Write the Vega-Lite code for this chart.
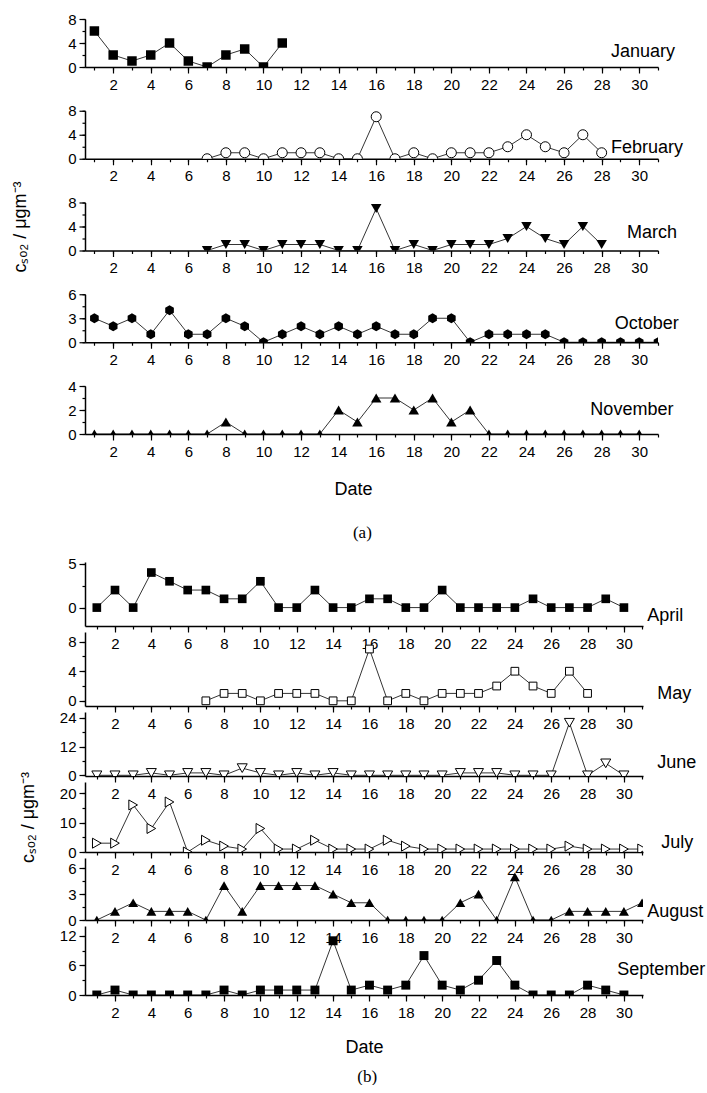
{
"$schema":"https://vega.github.io/schema/vega-lite/v6.json",
"padding":{"left":11,"top":12,"right":0,"bottom":0},
"config":{"view":{"stroke":null},"font":"Liberation Sans","axis":{"grid":false,"domainColor":"black","domainWidth":1.5,"tickColor":"black","tickWidth":1.2,"tickSize":6,"labelColor":"black","labelFont":"Liberation Sans","labelFontSize":15,"labelPadding":3,"labelOverlap":false,"labelFlush":false,"titleFont":"Liberation Sans","titleFontSize":18,"titleFontWeight":"normal","titleColor":"black"},"axisX":{"labelPadding":4}},
"datasets":{
"jan":[{"d":1,"v":6},{"d":2,"v":2},{"d":3,"v":1},{"d":4,"v":2},{"d":5,"v":4},{"d":6,"v":1},{"d":7,"v":0},{"d":8,"v":2},{"d":9,"v":3},{"d":10,"v":0},{"d":11,"v":4}],
"feb":[{"d":7,"v":0},{"d":8,"v":1},{"d":9,"v":1},{"d":10,"v":0},{"d":11,"v":1},{"d":12,"v":1},{"d":13,"v":1},{"d":14,"v":0},{"d":15,"v":0},{"d":16,"v":7},{"d":17,"v":0},{"d":18,"v":1},{"d":19,"v":0},{"d":20,"v":1},{"d":21,"v":1},{"d":22,"v":1},{"d":23,"v":2},{"d":24,"v":4},{"d":25,"v":2},{"d":26,"v":1},{"d":27,"v":4},{"d":28,"v":1}],
"oct":[{"d":1,"v":3},{"d":2,"v":2},{"d":3,"v":3},{"d":4,"v":1},{"d":5,"v":4},{"d":6,"v":1},{"d":7,"v":1},{"d":8,"v":3},{"d":9,"v":2},{"d":10,"v":0},{"d":11,"v":1},{"d":12,"v":2},{"d":13,"v":1},{"d":14,"v":2},{"d":15,"v":1},{"d":16,"v":2},{"d":17,"v":1},{"d":18,"v":1},{"d":19,"v":3},{"d":20,"v":3},{"d":21,"v":0},{"d":22,"v":1},{"d":23,"v":1},{"d":24,"v":1},{"d":25,"v":1},{"d":26,"v":0},{"d":27,"v":0},{"d":28,"v":0},{"d":29,"v":0},{"d":30,"v":0},{"d":31,"v":0}],
"nov":[{"d":1,"v":0},{"d":2,"v":0},{"d":3,"v":0},{"d":4,"v":0},{"d":5,"v":0},{"d":6,"v":0},{"d":7,"v":0},{"d":8,"v":1},{"d":9,"v":0},{"d":10,"v":0},{"d":11,"v":0},{"d":12,"v":0},{"d":13,"v":0},{"d":14,"v":2},{"d":15,"v":1},{"d":16,"v":3},{"d":17,"v":3},{"d":18,"v":2},{"d":19,"v":3},{"d":20,"v":1},{"d":21,"v":2},{"d":22,"v":0},{"d":23,"v":0},{"d":24,"v":0},{"d":25,"v":0},{"d":26,"v":0},{"d":27,"v":0},{"d":28,"v":0},{"d":29,"v":0},{"d":30,"v":0}],
"apr":[{"d":1,"v":0},{"d":2,"v":2},{"d":3,"v":0},{"d":4,"v":4},{"d":5,"v":3},{"d":6,"v":2},{"d":7,"v":2},{"d":8,"v":1},{"d":9,"v":1},{"d":10,"v":3},{"d":11,"v":0},{"d":12,"v":0},{"d":13,"v":2},{"d":14,"v":0},{"d":15,"v":0},{"d":16,"v":1},{"d":17,"v":1},{"d":18,"v":0},{"d":19,"v":0},{"d":20,"v":2},{"d":21,"v":0},{"d":22,"v":0},{"d":23,"v":0},{"d":24,"v":0},{"d":25,"v":1},{"d":26,"v":0},{"d":27,"v":0},{"d":28,"v":0},{"d":29,"v":1},{"d":30,"v":0}],
"jun":[{"d":1,"v":0},{"d":2,"v":0},{"d":3,"v":0},{"d":4,"v":1},{"d":5,"v":0},{"d":6,"v":1},{"d":7,"v":1},{"d":8,"v":0},{"d":9,"v":3},{"d":10,"v":1},{"d":11,"v":0},{"d":12,"v":1},{"d":13,"v":0},{"d":14,"v":1},{"d":15,"v":0},{"d":16,"v":0},{"d":17,"v":0},{"d":18,"v":0},{"d":19,"v":0},{"d":20,"v":0},{"d":21,"v":1},{"d":22,"v":1},{"d":23,"v":1},{"d":24,"v":0},{"d":25,"v":0},{"d":26,"v":0},{"d":27,"v":22},{"d":28,"v":0},{"d":29,"v":5},{"d":30,"v":0}],
"jul":[{"d":1,"v":3},{"d":2,"v":3},{"d":3,"v":16},{"d":4,"v":8},{"d":5,"v":17},{"d":6,"v":0},{"d":7,"v":4},{"d":8,"v":2},{"d":9,"v":1},{"d":10,"v":8},{"d":11,"v":1},{"d":12,"v":1},{"d":13,"v":4},{"d":14,"v":1},{"d":15,"v":1},{"d":16,"v":1},{"d":17,"v":4},{"d":18,"v":2},{"d":19,"v":1},{"d":20,"v":1},{"d":21,"v":1},{"d":22,"v":1},{"d":23,"v":1},{"d":24,"v":1},{"d":25,"v":1},{"d":26,"v":1},{"d":27,"v":2},{"d":28,"v":1},{"d":29,"v":1},{"d":30,"v":1},{"d":31,"v":1}],
"aug":[{"d":1,"v":0},{"d":2,"v":1},{"d":3,"v":2},{"d":4,"v":1},{"d":5,"v":1},{"d":6,"v":1},{"d":7,"v":0},{"d":8,"v":4},{"d":9,"v":1},{"d":10,"v":4},{"d":11,"v":4},{"d":12,"v":4},{"d":13,"v":4},{"d":14,"v":3},{"d":15,"v":2},{"d":16,"v":2},{"d":17,"v":0},{"d":18,"v":0},{"d":19,"v":0},{"d":20,"v":0},{"d":21,"v":2},{"d":22,"v":3},{"d":23,"v":0},{"d":24,"v":5},{"d":25,"v":0},{"d":26,"v":0},{"d":27,"v":1},{"d":28,"v":1},{"d":29,"v":1},{"d":30,"v":1},{"d":31,"v":2}],
"sep":[{"d":1,"v":0},{"d":2,"v":1},{"d":3,"v":0},{"d":4,"v":0},{"d":5,"v":0},{"d":6,"v":0},{"d":7,"v":0},{"d":8,"v":1},{"d":9,"v":0},{"d":10,"v":1},{"d":11,"v":1},{"d":12,"v":1},{"d":13,"v":1},{"d":14,"v":11},{"d":15,"v":1},{"d":16,"v":2},{"d":17,"v":1},{"d":18,"v":2},{"d":19,"v":8},{"d":20,"v":2},{"d":21,"v":1},{"d":22,"v":3},{"d":23,"v":7},{"d":24,"v":2},{"d":25,"v":0},{"d":26,"v":0},{"d":27,"v":0},{"d":28,"v":2},{"d":29,"v":1},{"d":30,"v":0}]
},
"vconcat":[
 {"vconcat":[
  {"width":573,"height":48,"data":{"name":"jan"},"resolve":{"axis":{"x":"independent","y":"independent"}},"layer":[
   {"mark":{"type":"line","color":"black","strokeWidth":0.8,"clip":true},"encoding":{"x":{"field":"d","type":"quantitative","scale":{"domain":[0.5,31],"nice":false,"zero":false},"axis":{"values":[2,4,6,8,10,12,14,16,18,20,22,24,26,28,30],"title":null}},"y":{"field":"v","type":"quantitative","scale":{"domain":[0,8],"nice":false},"axis":{"values":[0,4,8],"title":null}}}},
   {"mark":{"type":"point","shape":"square","filled":true,"color":"black","size":90,"opacity":1,"clip":true},"encoding":{"x":{"field":"d","type":"quantitative","axis":{"orient":"bottom","values":[1,2,3,4,5,6,7,8,9,10,11,12,13,14,15,16,17,18,19,20,21,22,23,24,25,26,27,28,29,30,31],"labels":false,"domain":false,"tickSize":3,"title":null}},"y":{"field":"v","type":"quantitative","axis":{"orient":"left","values":[0,2,4,6,8],"labels":false,"domain":false,"tickSize":3,"title":null}}}},
   {"data":{"values":[{"m":"January"}]},"mark":{"type":"text","align":"left","baseline":"middle","fontSize":18,"color":"black"},"encoding":{"x":{"datum":28.5,"axis":null},"y":{"datum":2.5,"axis":null},"text":{"field":"m"}}}
  ]},
  {"width":573,"height":48,"data":{"name":"feb"},"resolve":{"axis":{"x":"independent","y":"independent"}},"layer":[
   {"mark":{"type":"line","color":"black","strokeWidth":0.8,"clip":true},"encoding":{"x":{"field":"d","type":"quantitative","scale":{"domain":[0.5,31],"nice":false,"zero":false},"axis":{"values":[2,4,6,8,10,12,14,16,18,20,22,24,26,28,30],"title":null}},"y":{"field":"v","type":"quantitative","scale":{"domain":[0,8],"nice":false},"axis":{"values":[0,4,8],"title":null}}}},
   {"mark":{"type":"point","shape":"circle","filled":true,"fill":"white","stroke":"black","strokeWidth":1,"size":100,"opacity":1,"clip":true},"encoding":{"x":{"field":"d","type":"quantitative","axis":{"orient":"bottom","values":[1,2,3,4,5,6,7,8,9,10,11,12,13,14,15,16,17,18,19,20,21,22,23,24,25,26,27,28,29,30,31],"labels":false,"domain":false,"tickSize":3,"title":null}},"y":{"field":"v","type":"quantitative","axis":{"orient":"left","values":[0,2,4,6,8],"labels":false,"domain":false,"tickSize":3,"title":null}}}},
   {"data":{"values":[{"m":"February"}]},"mark":{"type":"text","align":"left","baseline":"middle","fontSize":18,"color":"black"},"encoding":{"x":{"datum":28.5,"axis":null},"y":{"datum":1.8,"axis":null},"text":{"field":"m"}}}
  ]},
  {"width":573,"height":48,"data":{"name":"feb"},"resolve":{"axis":{"x":"independent","y":"independent"}},"layer":[
   {"mark":{"type":"line","color":"black","strokeWidth":0.8,"clip":true},"encoding":{"x":{"field":"d","type":"quantitative","scale":{"domain":[0.5,31],"nice":false,"zero":false},"axis":{"values":[2,4,6,8,10,12,14,16,18,20,22,24,26,28,30],"title":null}},"y":{"field":"v","type":"quantitative","scale":{"domain":[0,8],"nice":false},"axis":{"values":[0,4,8],"title":"cₛₒ₂ / μgm⁻³","titlePadding":38}}}},
   {"mark":{"type":"point","shape":"triangle-down","filled":true,"color":"black","size":110,"opacity":1,"clip":true},"encoding":{"x":{"field":"d","type":"quantitative","axis":{"orient":"bottom","values":[1,2,3,4,5,6,7,8,9,10,11,12,13,14,15,16,17,18,19,20,21,22,23,24,25,26,27,28,29,30,31],"labels":false,"domain":false,"tickSize":3,"title":null}},"y":{"field":"v","type":"quantitative","axis":{"orient":"left","values":[0,2,4,6,8],"labels":false,"domain":false,"tickSize":3,"title":null}}}},
   {"data":{"values":[{"m":"March"}]},"mark":{"type":"text","align":"left","baseline":"middle","fontSize":18,"color":"black"},"encoding":{"x":{"datum":29.35,"axis":null},"y":{"datum":3,"axis":null},"text":{"field":"m"}}}
  ]},
  {"width":573,"height":48,"data":{"name":"oct"},"resolve":{"axis":{"x":"independent","y":"independent"}},"layer":[
   {"mark":{"type":"line","color":"black","strokeWidth":0.8,"clip":true},"encoding":{"x":{"field":"d","type":"quantitative","scale":{"domain":[0.5,31],"nice":false,"zero":false},"axis":{"values":[2,4,6,8,10,12,14,16,18,20,22,24,26,28,30],"title":null}},"y":{"field":"v","type":"quantitative","scale":{"domain":[0,6],"nice":false},"axis":{"values":[0,3,6],"title":null}}}},
   {"mark":{"type":"point","shape":"M0,-1L0.866,-0.5L0.866,0.5L0,1L-0.866,0.5L-0.866,-0.5Z","filled":true,"color":"black","size":100,"opacity":1,"clip":true},"encoding":{"x":{"field":"d","type":"quantitative","axis":{"orient":"bottom","values":[1,2,3,4,5,6,7,8,9,10,11,12,13,14,15,16,17,18,19,20,21,22,23,24,25,26,27,28,29,30,31],"labels":false,"domain":false,"tickSize":3,"title":null}},"y":{"field":"v","type":"quantitative","axis":{"orient":"left","values":[0,1.5,3,4.5,6],"labels":false,"domain":false,"tickSize":3,"title":null}}}},
   {"data":{"values":[{"m":"October"}]},"mark":{"type":"text","align":"left","baseline":"middle","fontSize":18,"color":"black"},"encoding":{"x":{"datum":28.7,"axis":null},"y":{"datum":2.3,"axis":null},"text":{"field":"m"}}}
  ]},
  {"width":573,"height":48,"data":{"name":"nov"},"resolve":{"axis":{"x":"independent","y":"independent"}},"layer":[
   {"mark":{"type":"line","color":"black","strokeWidth":0.8,"clip":true},"encoding":{"x":{"field":"d","type":"quantitative","scale":{"domain":[0.5,31],"nice":false,"zero":false},"axis":{"values":[2,4,6,8,10,12,14,16,18,20,22,24,26,28,30],"title":"Date","titlePadding":21,"titleX":268}},"y":{"field":"v","type":"quantitative","scale":{"domain":[0,4],"nice":false},"axis":{"values":[0,2,4],"title":null}}}},
   {"mark":{"type":"point","shape":"triangle-up","filled":true,"color":"black","size":110,"opacity":1,"clip":true},"encoding":{"x":{"field":"d","type":"quantitative","axis":{"orient":"bottom","values":[1,2,3,4,5,6,7,8,9,10,11,12,13,14,15,16,17,18,19,20,21,22,23,24,25,26,27,28,29,30,31],"labels":false,"domain":false,"tickSize":3,"title":null}},"y":{"field":"v","type":"quantitative","axis":{"orient":"left","values":[0,1,2,3,4],"labels":false,"domain":false,"tickSize":3,"title":null}}}},
   {"data":{"values":[{"m":"November"}]},"mark":{"type":"text","align":"left","baseline":"middle","fontSize":18,"color":"black"},"encoding":{"x":{"datum":27.4,"axis":null},"y":{"datum":2.04,"axis":null},"text":{"field":"m"}}}
  ]}
 ],"spacing":43.75,"bounds":"flush","title":{"text":"(a)","orient":"bottom","anchor":"middle","frame":"bounds","dx":15,"font":"Liberation Serif","fontSize":17,"fontWeight":"normal","offset":27,"color":"black"}},
 {"vconcat":[
  {"width":558,"height":64,"data":{"name":"apr"},"resolve":{"axis":{"x":"independent","y":"independent"}},"layer":[
   {"mark":{"type":"line","color":"black","strokeWidth":0.8,"clip":true},"encoding":{"x":{"field":"d","type":"quantitative","scale":{"domain":[0.35,31.05],"nice":false,"zero":false},"axis":{"values":[2,4,6,8,10,12,14,16,18,20,22,24,26,28,30],"title":null}},"y":{"field":"v","type":"quantitative","scale":{"domain":[-2.1,5.2],"nice":false,"zero":false},"axis":{"values":[0,5],"title":null}}}},
   {"mark":{"type":"point","shape":"square","filled":true,"color":"black","size":75,"opacity":1,"clip":true},"encoding":{"x":{"field":"d","type":"quantitative","axis":{"orient":"bottom","values":[1,2,3,4,5,6,7,8,9,10,11,12,13,14,15,16,17,18,19,20,21,22,23,24,25,26,27,28,29,30,31],"labels":false,"domain":false,"tickSize":3,"title":null}},"y":{"field":"v","type":"quantitative","axis":{"orient":"left","values":[0,2.5,5],"labels":false,"domain":false,"tickSize":3,"title":null}}}},
   {"data":{"values":[{"m":"April"}]},"mark":{"type":"text","align":"left","baseline":"middle","fontSize":18,"color":"black"},"encoding":{"x":{"datum":31.28,"axis":null},"y":{"datum":-0.95,"axis":null},"text":{"field":"m"}}}
  ]},
  {"width":558,"height":74,"data":{"name":"feb"},"resolve":{"axis":{"x":"independent","y":"independent"}},"layer":[
   {"mark":{"type":"line","color":"black","strokeWidth":0.8,"clip":true},"encoding":{"x":{"field":"d","type":"quantitative","scale":{"domain":[0.35,31.05],"nice":false,"zero":false},"axis":{"values":[2,4,6,8,10,12,14,16,18,20,22,24,26,28,30],"title":null}},"y":{"field":"v","type":"quantitative","scale":{"domain":[-0.7,9.3],"nice":false,"zero":false},"axis":{"values":[0,4,8],"title":null}}}},
   {"mark":{"type":"point","shape":"square","filled":true,"fill":"white","stroke":"black","strokeWidth":1,"size":60,"opacity":1,"clip":true},"encoding":{"x":{"field":"d","type":"quantitative","axis":{"orient":"bottom","values":[1,2,3,4,5,6,7,8,9,10,11,12,13,14,15,16,17,18,19,20,21,22,23,24,25,26,27,28,29,30,31],"labels":false,"domain":false,"tickSize":3,"title":null}},"y":{"field":"v","type":"quantitative","axis":{"orient":"left","values":[0,2,4,6,8],"labels":false,"domain":false,"tickSize":3,"title":null}}}},
   {"data":{"values":[{"m":"May"}]},"mark":{"type":"text","align":"left","baseline":"middle","fontSize":18,"color":"black"},"encoding":{"x":{"datum":31.83,"axis":null},"y":{"datum":0.9,"axis":null},"text":{"field":"m"}}}
  ]},
  {"width":558,"height":64,"data":{"name":"jun"},"resolve":{"axis":{"x":"independent","y":"independent"}},"layer":[
   {"mark":{"type":"line","color":"black","strokeWidth":0.8,"clip":true},"encoding":{"x":{"field":"d","type":"quantitative","scale":{"domain":[0.35,31.05],"nice":false,"zero":false},"axis":{"values":[2,4,6,8,10,12,14,16,18,20,22,24,26,28,30],"title":null}},"y":{"field":"v","type":"quantitative","scale":{"domain":[-0.3,26.5],"nice":false,"zero":false},"axis":{"values":[0,12,24],"title":null}}}},
   {"mark":{"type":"point","shape":"triangle-down","filled":true,"fill":"white","stroke":"black","strokeWidth":1,"size":100,"opacity":1,"clip":true},"encoding":{"x":{"field":"d","type":"quantitative","axis":{"orient":"bottom","values":[1,2,3,4,5,6,7,8,9,10,11,12,13,14,15,16,17,18,19,20,21,22,23,24,25,26,27,28,29,30,31],"labels":false,"domain":false,"tickSize":3,"title":null}},"y":{"field":"v","type":"quantitative","axis":{"orient":"left","values":[0,6,12,18,24],"labels":false,"domain":false,"tickSize":3,"title":null}}}},
   {"data":{"values":[{"m":"June"}]},"mark":{"type":"text","align":"left","baseline":"middle","fontSize":18,"color":"black"},"encoding":{"x":{"datum":31.83,"axis":null},"y":{"datum":5.3,"axis":null},"text":{"field":"m"}}}
  ]},
  {"width":558,"height":70,"data":{"name":"jul"},"resolve":{"axis":{"x":"independent","y":"independent"}},"layer":[
   {"mark":{"type":"line","color":"black","strokeWidth":0.8,"clip":true},"encoding":{"x":{"field":"d","type":"quantitative","scale":{"domain":[0.35,31.05],"nice":false,"zero":false},"axis":{"values":[2,4,6,8,10,12,14,16,18,20,22,24,26,28,30],"title":null}},"y":{"field":"v","type":"quantitative","scale":{"domain":[0,23.8],"nice":false,"zero":false},"axis":{"values":[0,10,20],"title":"cₛₒ₂ / μgm⁻³","titlePadding":22}}}},
   {"mark":{"type":"point","shape":"triangle-right","filled":true,"fill":"white","stroke":"black","strokeWidth":1,"size":100,"opacity":1,"clip":true},"encoding":{"x":{"field":"d","type":"quantitative","axis":{"orient":"bottom","values":[1,2,3,4,5,6,7,8,9,10,11,12,13,14,15,16,17,18,19,20,21,22,23,24,25,26,27,28,29,30,31],"labels":false,"domain":false,"tickSize":3,"title":null}},"y":{"field":"v","type":"quantitative","axis":{"orient":"left","values":[0,5,10,15,20],"labels":false,"domain":false,"tickSize":3,"title":null}}}},
   {"data":{"values":[{"m":"July"}]},"mark":{"type":"text","align":"left","baseline":"middle","fontSize":18,"color":"black"},"encoding":{"x":{"datum":32.05,"axis":null},"y":{"datum":3,"axis":null},"text":{"field":"m"}}}
  ]},
  {"width":558,"height":62,"data":{"name":"aug"},"resolve":{"axis":{"x":"independent","y":"independent"}},"layer":[
   {"mark":{"type":"line","color":"black","strokeWidth":0.8,"clip":true},"encoding":{"x":{"field":"d","type":"quantitative","scale":{"domain":[0.35,31.05],"nice":false,"zero":false},"axis":{"values":[2,4,6,8,10,12,14,16,18,20,22,24,26,28,30],"title":null}},"y":{"field":"v","type":"quantitative","scale":{"domain":[0,7.2],"nice":false,"zero":false},"axis":{"values":[0,3,6],"title":null}}}},
   {"mark":{"type":"point","shape":"triangle-up","filled":true,"color":"black","size":100,"opacity":1,"clip":true},"encoding":{"x":{"field":"d","type":"quantitative","axis":{"orient":"bottom","values":[1,2,3,4,5,6,7,8,9,10,11,12,13,14,15,16,17,18,19,20,21,22,23,24,25,26,27,28,29,30,31],"labels":false,"domain":false,"tickSize":3,"title":null}},"y":{"field":"v","type":"quantitative","axis":{"orient":"left","values":[0,1.5,3,4.5,6],"labels":false,"domain":false,"tickSize":3,"title":null}}}},
   {"data":{"values":[{"m":"August"}]},"mark":{"type":"text","align":"left","baseline":"middle","fontSize":18,"color":"black"},"encoding":{"x":{"datum":31.28,"axis":null},"y":{"datum":0.9,"axis":null},"text":{"field":"m"}}}
  ]},
  {"width":558,"height":69,"data":{"name":"sep"},"resolve":{"axis":{"x":"independent","y":"independent"}},"layer":[
   {"mark":{"type":"line","color":"black","strokeWidth":0.8,"clip":true},"encoding":{"x":{"field":"d","type":"quantitative","scale":{"domain":[0.35,31.05],"nice":false,"zero":false},"axis":{"values":[2,4,6,8,10,12,14,16,18,20,22,24,26,28,30],"title":"Date","titlePadding":18}},"y":{"field":"v","type":"quantitative","scale":{"domain":[0,14],"nice":false,"zero":false},"axis":{"values":[0,6,12],"title":null}}}},
   {"mark":{"type":"point","shape":"square","filled":true,"color":"black","size":80,"opacity":1,"clip":true},"encoding":{"x":{"field":"d","type":"quantitative","axis":{"orient":"bottom","values":[1,2,3,4,5,6,7,8,9,10,11,12,13,14,15,16,17,18,19,20,21,22,23,24,25,26,27,28,29,30,31],"labels":false,"domain":false,"tickSize":3,"title":null}},"y":{"field":"v","type":"quantitative","axis":{"orient":"left","values":[0,3,6,9,12],"labels":false,"domain":false,"tickSize":3,"title":null}}}},
   {"data":{"values":[{"m":"September"}]},"mark":{"type":"text","align":"left","baseline":"middle","fontSize":18,"color":"black"},"encoding":{"x":{"datum":29.63,"axis":null},"y":{"datum":5.0,"axis":null},"text":{"field":"m"}}}
  ]}
 ],"spacing":6,"bounds":"flush","title":{"text":"(b)","orient":"bottom","anchor":"middle","frame":"bounds","dx":5,"font":"Liberation Serif","fontSize":17,"fontWeight":"normal","offset":13,"color":"black"}}
],
"spacing":15
}
